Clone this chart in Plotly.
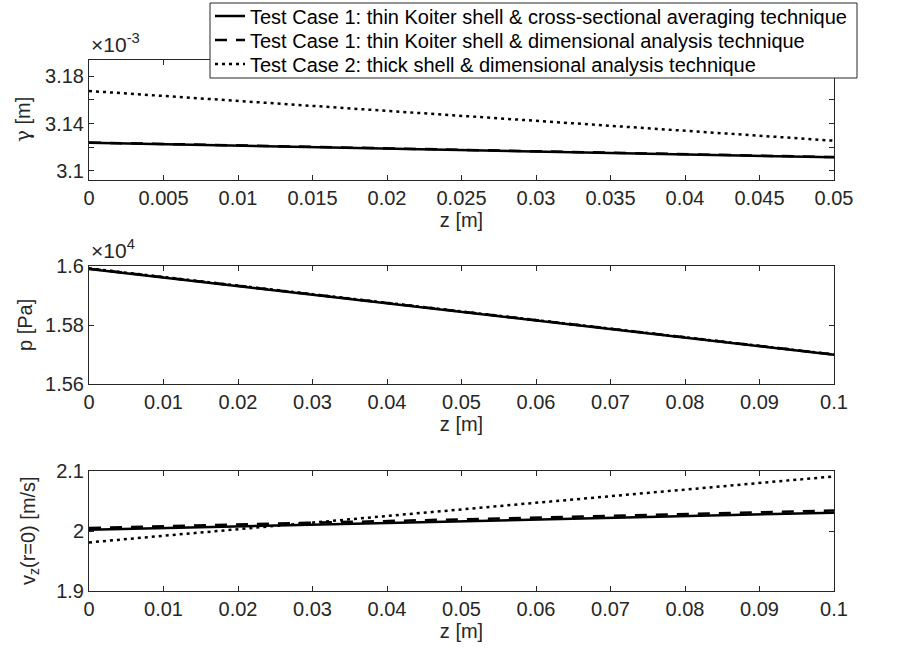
import plotly.graph_objects as go

# ---------------- data ----------------
z_gamma = [0.0, 0.025, 0.05]
gamma_tc1_avg = [3.1238e-3, 3.1177e-3, 3.1115e-3]
gamma_tc1_dim = [3.1240e-3, 3.1178e-3, 3.1117e-3]
gamma_tc2_dim = [3.1674e-3, 3.1465e-3, 3.1255e-3]

z_p = [0.0, 0.05, 0.1]
p_tc1_avg = [15990.0, 15845.0, 15699.0]
p_tc1_dim = [15991.0, 15846.0, 15700.0]
p_tc2_dim = [15992.0, 15846.0, 15700.0]

z_v = [0.0, 0.05, 0.1]
v_tc1_avg = [2.002, 2.016, 2.0305]
v_tc1_dim = [2.005, 2.019, 2.034]
v_tc2_dim = [1.981, 2.036, 2.091]

series_names = [
    "Test Case 1: thin Koiter shell & cross-sectional averaging technique",
    "Test Case 1: thin Koiter shell & dimensional analysis technique",
    "Test Case 2: thick shell & dimensional analysis technique",
]

x1_tickvals = [0, 0.005, 0.01, 0.015, 0.02, 0.025, 0.03, 0.035, 0.04, 0.045, 0.05]
x1_ticktext = ["0", "0.005", "0.01", "0.015", "0.02", "0.025", "0.03", "0.035", "0.04", "0.045", "0.05"]
x23_tickvals = [0, 0.01, 0.02, 0.03, 0.04, 0.05, 0.06, 0.07, 0.08, 0.09, 0.1]
x23_ticktext = ["0", "0.01", "0.02", "0.03", "0.04", "0.05", "0.06", "0.07", "0.08", "0.09", "0.1"]
y1_tickvals = [3.10, 3.12, 3.14, 3.16, 3.18]
y1_ticktext = ["3.1", "", "3.14", "", "3.18"]
y2_tickvals = [1.56, 1.58, 1.60]
y2_ticktext = ["1.56", "1.58", "1.6"]
y3_tickvals = [1.9, 2.0, 2.1]
y3_ticktext = ["1.9", "2", "2.1"]

y_titles = [
    '<span style="font-family:DejaVu Serif">γ</span> [m]',
    "p [Pa]",
    "v<sub>z</sub>(r=0) [m/s]",
]

# ---------------- styles ----------------
AX = "#262626"
FONT = "Liberation Sans, Arial, Helvetica, sans-serif"
styles = [
    dict(color="black", width=2.5, dash="solid"),
    dict(color="black", width=2.5, dash="12px,9px"),
    dict(color="black", width=2.5, dash="3px,4px"),
]
legend_ids = ["legend", "legend2", "legend3"]

fig = go.Figure()

g_scale = 1e3
p_scale = 1e-4
sets = [
    (z_gamma, [[v * g_scale for v in s] for s in (gamma_tc1_avg, gamma_tc1_dim, gamma_tc2_dim)], "x", "y"),
    (z_p, [[v * p_scale for v in s] for s in (p_tc1_avg, p_tc1_dim, p_tc2_dim)], "x2", "y2"),
    (z_v, [v_tc1_avg, v_tc1_dim, v_tc2_dim], "x3", "y3"),
]
for k, (zz, ys, xa, ya) in enumerate(sets):
    for i, yv in enumerate(ys):
        fig.add_trace(go.Scatter(
            x=zz, y=yv, mode="lines", line=styles[i], name=series_names[i],
            xaxis=xa, yaxis=ya, showlegend=(k == 0), legend=legend_ids[i],
        ))

W, H = 909, 648
l_m, r_m, t_m, b_m = 89, 75, 60, 57
pw = W - l_m - r_m
ph = H - t_m - b_m

def px_x(px):
    return (px - l_m) / pw

def px_y(py):
    return (H - b_m - py) / ph

def dom(top_px, bot_px):
    return [px_y(bot_px), px_y(top_px)]

common_ax = dict(
    showline=True, linecolor=AX, linewidth=1, mirror="ticks",
    ticks="inside", ticklen=5, tickcolor=AX, tickwidth=1,
    showgrid=False, zeroline=False,
    tickfont=dict(family=FONT, size=20, color=AX),
    title_font=dict(family=FONT, size=20, color=AX),
)

leg_common = dict(
    xanchor="left", yanchor="middle", bgcolor="rgba(0,0,0,0)", borderwidth=0,
    font=dict(family=FONT, size=20, color="black"), itemwidth=30,
)
legend_rows_px = [16, 40, 64]

fig.update_layout(
    width=W, height=H,
    margin=dict(l=l_m, r=r_m, t=t_m, b=b_m, autoexpand=False),
    paper_bgcolor="white", plot_bgcolor="white",
    font=dict(family=FONT, size=20, color=AX),
    xaxis=dict(common_ax, domain=[0, 1], anchor="y", range=[0, 0.05],
               tickmode="array", tickvals=x1_tickvals, ticktext=x1_ticktext,
               title=dict(text="z [m]", standoff=4)),
    yaxis=dict(common_ax, domain=dom(60, 180), anchor="x", range=[3.0924, 3.1935],
               tickmode="array", tickvals=y1_tickvals, ticktext=y1_ticktext),
    xaxis2=dict(common_ax, domain=[0, 1], anchor="y2", range=[0, 0.1],
                tickmode="array", tickvals=x23_tickvals, ticktext=x23_ticktext,
                title=dict(text="z [m]", standoff=4)),
    yaxis2=dict(common_ax, domain=dom(266, 384), anchor="x2", range=[1.56, 1.60],
                tickmode="array", tickvals=y2_tickvals, ticktext=y2_ticktext),
    xaxis3=dict(common_ax, domain=[0, 1], anchor="y3", range=[0, 0.1],
                tickmode="array", tickvals=x23_tickvals, ticktext=x23_ticktext,
                title=dict(text="z [m]", standoff=4)),
    yaxis3=dict(common_ax, domain=dom(471, 591), anchor="x3", range=[1.9, 2.1],
                tickmode="array", tickvals=y3_tickvals, ticktext=y3_ticktext),
    legend=dict(leg_common, x=px_x(210), y=px_y(legend_rows_px[0])),
    legend2=dict(leg_common, x=px_x(210), y=px_y(legend_rows_px[1])),
    legend3=dict(leg_common, x=px_x(210), y=px_y(legend_rows_px[2])),
    showlegend=True,
)

# legend frame (white box with dark border, drawn over the top panel)
fig.add_shape(
    type="rect", xref="paper", yref="paper",
    x0=px_x(210), x1=px_x(857), y0=px_y(78), y1=px_y(3),
    line=dict(color=AX, width=1), fillcolor="white", layer="above",
)

# exponent labels
for xa, ya, txt in [("x", "y", "×10<sup>-3</sup>"), ("x2", "y2", "×10<sup>4</sup>")]:
    fig.add_annotation(
        xref=f"{xa} domain", yref=f"{ya} domain", x=0, y=1,
        xanchor="left", yanchor="bottom", showarrow=False, yshift=2,
        text=txt, font=dict(family=FONT, size=21, color=AX),
    )

# y-axis titles
for ya, txt, cx in zip(["y", "y2", "y3"], y_titles, [23, 25, 29]):
    fig.add_annotation(
        xref="paper", yref=f"{ya} domain", x=px_x(cx), y=0.5,
        xanchor="center", yanchor="middle", showarrow=False, textangle=-90,
        text=txt, font=dict(family=FONT, size=20, color=AX),
    )

fig.write_html("out.html")
